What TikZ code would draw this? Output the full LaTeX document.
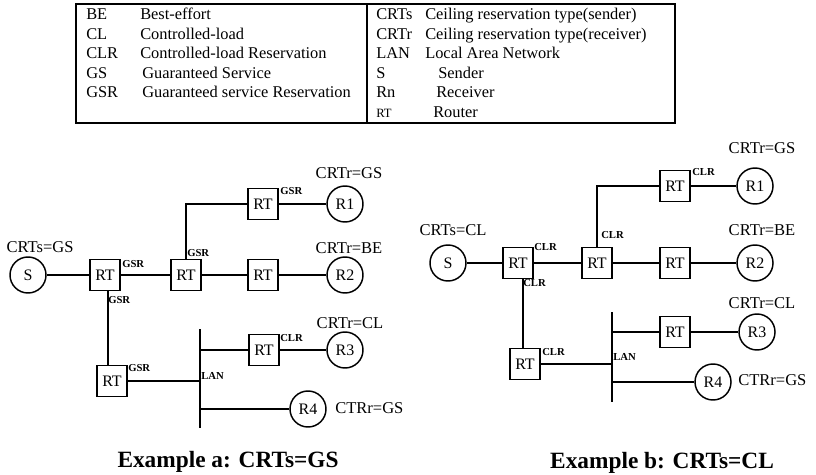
\documentclass[tikz,border=0pt]{standalone}
\usepackage{fontspec}
\setmainfont{Liberation Serif}
\begin{document}
\begin{tikzpicture}[x=0.75pt,y=-0.75pt,
  rt/.style={draw,line width=1.1pt,minimum width=22.5pt,minimum height=23pt,inner sep=0pt,font=\fontsize{12}{12}\selectfont},
  host/.style={draw,circle,line width=1.1pt,minimum size=27pt,inner sep=0pt,font=\fontsize{12}{12}\selectfont},
  lbl/.style={font=\fontsize{12.4}{12}\selectfont,inner sep=0pt},
  tag/.style={font=\bfseries\fontsize{8}{8}\selectfont,inner sep=0pt,anchor=west},
  wire/.style={line width=1.1pt},
  ttl/.style={font=\bfseries\fontsize{17.5}{17}\selectfont,inner sep=0pt},
  tab/.style={font=\fontsize{12.3}{12}\selectfont,inner sep=0pt,anchor=base west}]
\useasboundingbox (0,0) rectangle (816,474);

% ---------- legend table ----------
\draw[line width=1.3pt] (76,4) rectangle (675,123);
\draw[line width=1.1pt] (367,4) -- (367,123);
\node[tab] (a1) at (86,20) {BE};   \node[tab] (b1) at (140,20) {Best-effort};
\node[tab] (a2) at (86,39.5) {CL}; \node[tab] (b2) at (140,39.5) {Controlled-load};
\node[tab] (a3) at (86,59) {CLR};  \node[tab] (b3) at (140,59) {Controlled-load Reservation};
\node[tab] (a4) at (86,78.5) {GS}; \node[tab] (b4) at (142,78.5) {Guaranteed Service};
\node[tab] (a5) at (86,98) {GSR};  \node[tab] (b5) at (142,98) {Guaranteed service Reservation};
\node[tab] (c1) at (376,20) {CRTs};  \node[tab] (d1) at (425,20) {Ceiling reservation type(sender)};
\node[tab] (c2) at (376,39.5) {CRTr};\node[tab] (d2) at (425,39.5) {Ceiling reservation type(receiver)};
\node[tab] (c3) at (376,59) {LAN};   \node[tab] (d3) at (425,59) {Local Area Network};
\node[tab] (c4) at (376,78.5) {S};   \node[tab] (d4) at (438,78.5) {Sender};
\node[tab] (c5) at (376,98) {Rn};    \node[tab] (d5) at (436,98) {Receiver};
\node[tab,font=\fontsize{9.5}{9}\selectfont] (c6) at (376,117.5) {RT}; \node[tab] (d6) at (433,117.5) {Router};

% ---------- Example a ----------
\node[host] (Sa) at (28,275) {S};
\node[rt] (A1) at (105,275) {RT};
\node[rt] (A2) at (186,275) {RT};
\node[rt] (A3) at (263,275) {RT};
\node[host] (R2a) at (345,275) {R2};
\node[rt] (AU) at (263,204) {RT};
\node[host] (R1a) at (345,204) {R1};
\node[rt] (A4) at (112,381) {RT};
\node[rt] (A5) at (264,350) {RT};
\node[host] (R3a) at (345,350) {R3};
\node[host] (R4a) at (308,409) {R4};
\coordinate (LANat) at (200,329);
\coordinate (LANab) at (200,428);

\draw[wire] (Sa) -- (A1) -- (A2) -- (A3) -- (R2a);
\draw[wire] (A2.north) |- (AU.west);
\draw[wire] (AU) -- (R1a);
\draw[wire] (A1.south -| 108,0) -- (108,0 |- A4.north);
\draw[line width=1.3pt] (LANat) -- (LANab);
\draw[wire] (A4.east) -- (A4.east -| LANat);
\draw[wire] (A5.west -| LANat) -- (A5.west);
\draw[wire] (A5) -- (R3a);
\draw[wire] (R4a.west -| LANat) -- (R4a.west);

\node[lbl] (la1) at (40,247) {CRTs=GS};
\node[lbl] (la2) at (349,173) {CRTr=GS};
\node[lbl] (la3) at (349,248) {CRTr=BE};
\node[lbl] (la4) at (350,323) {CRTr=CL};
\node[lbl,anchor=west] (la5) at (335,408) {CTRr=GS};
\node[tag] (ga1) at (280,191) {GSR};
\node[tag] (ga2) at (187,253) {GSR};
\node[tag] (ga3) at (122,264) {GSR};
\node[tag] (ga4) at (108,300) {GSR};
\node[tag] (ga5) at (128,368) {GSR};
\node[tag] (ga6) at (280,338) {CLR};
\node[tag] (ga7) at (201,376) {LAN};
\node[ttl] (ta) at (228,462) {Example a: CRTs=GS};

% ---------- Example b ----------
\node[host] (Sb) at (448,263) {S};
\node[rt] (B1) at (518,263) {RT};
\node[rt] (B2) at (597,263) {RT};
\node[rt] (B3) at (675,263) {RT};
\node[host] (R2b) at (755,263) {R2};
\node[rt] (BU) at (675,186) {RT};
\node[host] (R1b) at (755,186) {R1};
\node[rt] (B4) at (525,364) {RT};
\node[rt] (B5) at (675,332) {RT};
\node[host] (R3b) at (757,332) {R3};
\node[host] (R4b) at (713,382) {R4};
\coordinate (LANbt) at (612,312);
\coordinate (LANbb) at (612,402);

\draw[wire] (Sb) -- (B1) -- (B2) -- (B3) -- (R2b);
\draw[wire] (B2.north) |- (BU.west);
\draw[wire] (BU) -- (R1b);
\draw[wire] (B1.south -| 523,0) -- (523,0 |- B4.north);
\draw[line width=1.3pt] (LANbt) -- (LANbb);
\draw[wire] (B4.east) -- (B4.east -| LANbt);
\draw[wire] (B5.west -| LANbt) -- (B5.west);
\draw[wire] (B5) -- (R3b);
\draw[wire] (R4b.west -| LANbt) -- (R4b.west);

\node[lbl] (lb1) at (453,230) {CRTs=CL};
\node[lbl] (lb2) at (762,148) {CRTr=GS};
\node[lbl] (lb3) at (762,230) {CRTr=BE};
\node[lbl] (lb4) at (762,303) {CRTr=CL};
\node[lbl,anchor=west] (lb5) at (738,380) {CTRr=GS};
\node[tag] (gb1) at (692,172) {CLR};
\node[tag] (gb2) at (601,235) {CLR};
\node[tag] (gb3) at (534,247) {CLR};
\node[tag] (gb4) at (523,283) {CLR};
\node[tag] (gb5) at (542,352) {CLR};
\node[tag] (gb6) at (613,357) {LAN};
\node[ttl] (tb) at (662,463) {Example b: CRTs=CL};
\end{tikzpicture}
\end{document}
